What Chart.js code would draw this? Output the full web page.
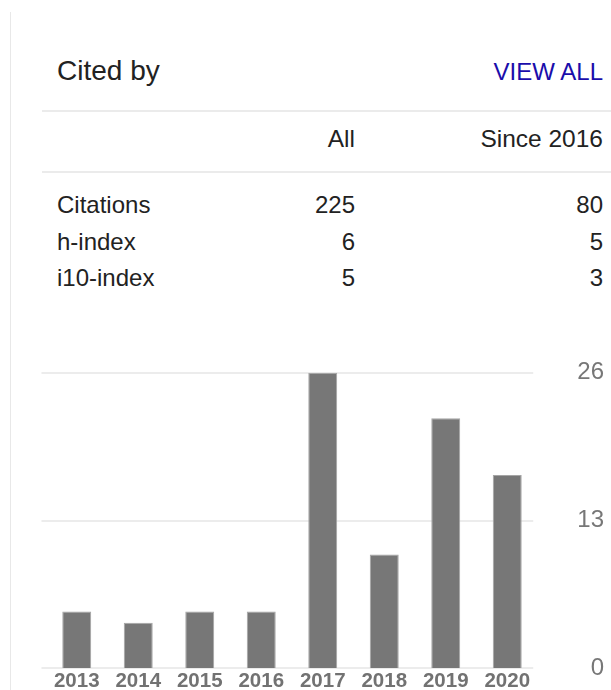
<!DOCTYPE html>
<html>
<head>
<meta charset="utf-8">
<script src="https://cdn.jsdelivr.net/npm/chart.js@4"></script>
<style>
  html, body { margin: 0; padding: 0; background: #fff; width: 611px; height: 690px; overflow: hidden; }
  body { position: relative; font-family: "Liberation Sans", Arial, sans-serif; color: #222; }
  .t { position: absolute; white-space: nowrap; line-height: 1; }
  .r { text-align: right; }
  .hr { position: absolute; height: 2px; background: #ebebeb; }
  #vline { position: absolute; left: 10px; top: 12px; width: 1px; height: 678px; background: #e8e8e8; }
  #wrap { position: absolute; left: 0; top: 340px; width: 611px; height: 350px; }
</style>
</head>
<body>
<div id="vline"></div>
<div class="t" style="left:57px; top:56.8px; font-size:28px;">Cited by</div>
<div class="t" style="right:8px; top:60.4px; font-size:24px; color:#1a0dab;">VIEW ALL</div>
<div class="hr" style="left:42px; right:0; top:110px;"></div>
<div id="headRow"></div>
<div class="hr" style="left:42px; right:0; top:171px;"></div>
<div id="rows"></div>
<div id="wrap"><canvas id="c" width="611" height="350"></canvas></div>
<script>
const columnHeaders = ["All", "Since 2016"];
const metricNames = ["Citations", "h-index", "i10-index"];
const allValues = [225, 6, 5];
const sinceValues = [80, 5, 3];

const years = ["2013", "2014", "2015", "2016", "2017", "2018", "2019", "2020"];
const citations = [5, 4, 5, 5, 26, 10, 22, 17];
const yTicks = [0, 13, 26];

// table
(function () {
  const head = document.getElementById('headRow');
  const hTop = 127.3;
  head.innerHTML =
    '<div class="t r" style="right:256px; top:' + hTop + 'px; font-size:24.5px;">' + columnHeaders[0] + '</div>' +
    '<div class="t r" style="right:8px; top:' + hTop + 'px; font-size:24.5px;">' + columnHeaders[1] + '</div>';
  const rows = document.getElementById('rows');
  const tops = [193, 229.7, 265.7];
  let html = '';
  metricNames.forEach((m, i) => {
    html += '<div class="t" style="left:57px; top:' + tops[i] + 'px; font-size:24px;">' + m + '</div>';
    html += '<div class="t r" style="right:256px; top:' + tops[i] + 'px; font-size:24px;">' + allValues[i] + '</div>';
    html += '<div class="t r" style="right:8px; top:' + tops[i] + 'px; font-size:24px;">' + sinceValues[i] + '</div>';
  });
  rows.innerHTML = html;
})();

const shiftedGrid = {
  id: 'shiftedGrid',
  beforeDatasetsDraw(chart) {
    const { ctx, chartArea } = chart;
    const ys = chart.scales.y;
    ctx.save();
    ctx.strokeStyle = '#ececec';
    ctx.lineWidth = 2;
    ys.ticks.forEach(t => {
      const py = Math.round(ys.getPixelForValue(t.value));
      ctx.beginPath();
      ctx.moveTo(chartArea.left - 4.5, py);
      ctx.lineTo(chartArea.right - 4.8, py);
      ctx.stroke();
    });
    ctx.restore();
  }
};

new Chart(document.getElementById('c'), {
  type: 'bar',
  data: {
    labels: years,
    datasets: [{
      data: citations,
      backgroundColor: '#777777',
      borderColor: '#a5a5a5',
      borderWidth: 1,
      barPercentage: 0.471,
      categoryPercentage: 1.0
    }]
  },
  options: {
    responsive: false,
    animation: false,
    layout: { padding: { left: 46, right: 7, top: 32.7, bottom: 0 } },
    plugins: { legend: { display: false }, tooltip: { enabled: false } },
    scales: {
      x: {
        grid: { display: false, drawTicks: false },
        border: { display: false },
        ticks: {
          color: '#727272', font: { family: '"Liberation Sans", Arial, sans-serif', size: 20.5, weight: 'bold' },
          padding: 1, maxRotation: 0, autoSkip: false
        },
        afterFit(s) { s.height = 21.7; }
      },
      y: {
        position: 'right',
        min: 0, max: 26,
        afterBuildTicks(s) { s.ticks = yTicks.map(v => ({ value: v })); },
        grid: { display: false, drawTicks: false },
        border: { display: false },
        ticks: {
          color: '#777', font: { family: '"Liberation Sans", Arial, sans-serif', size: 24 },
          padding: 0, crossAlign: 'far'
        },
        afterFit(s) { s.width = 66; }
      }
    }
  },
  plugins: [shiftedGrid]
});
</script>
</body>
</html>
